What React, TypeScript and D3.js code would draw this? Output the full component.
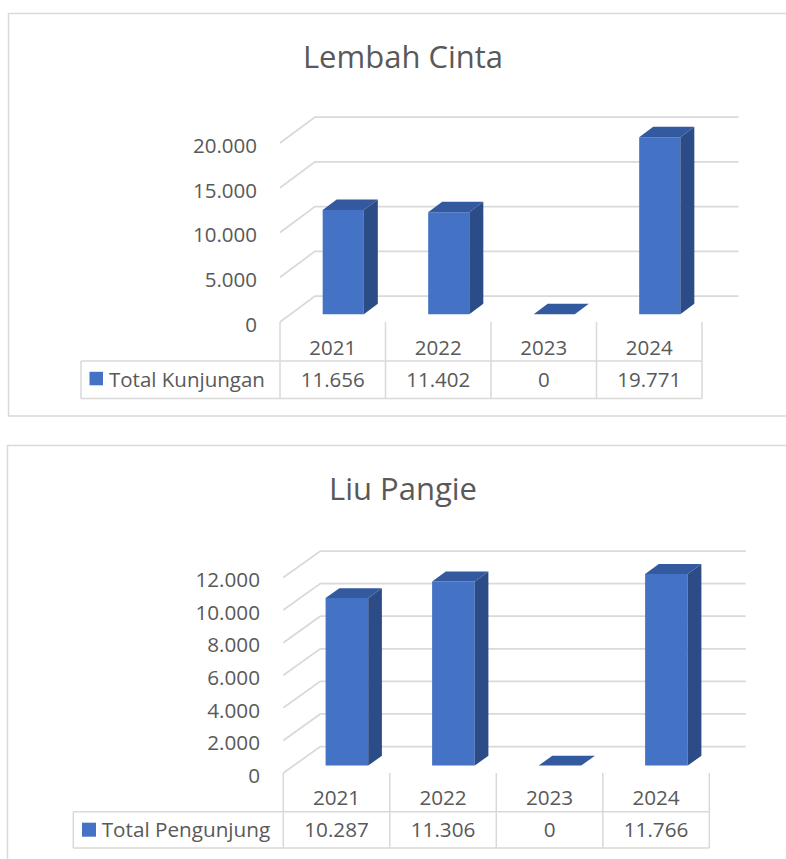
import React from "react";
import * as d3 from "d3";

const years = ["2021", "2022", "2023", "2024"];
const lembahCintaValues = [11656, 11402, 0, 19771];
const liuPangieValues = [10287, 11306, 0, 11766];
const lembahCintaTicks = [0, 5000, 10000, 15000, 20000];
const liuPangieTicks = [0, 2000, 4000, 6000, 8000, 10000, 12000];
const lembahCintaTitle = "Lembah Cinta";
const liuPangieTitle = "Liu Pangie";
const lembahCintaSeries = "Total Kunjungan";
const liuPangieSeries = "Total Pengunjung";

const idFmt = d3.formatLocale({ decimal: ",", thousands: ".", grouping: [3], currency: ["", ""] }).format(",d");

const FONT = "'Open Sans', 'Noto Sans', sans-serif";
const TEXT = "#595959";
const GRID = "#d9d9d9";
const FRONT = "#4472c4";
const SIDE = "#2b4c86";
const TOP = "#335a9e";

type Layout = {
  frame: { x: number; y: number; w: number; h: number };
  titleY: number;
  titleX: number;
  titleSize: number;
  fontSize: number;
  x0: number;
  slot: number;
  floorY: number;
  dx: number;
  dy: number;
  gridEnd: number;
  h: number;
  pad: number;
  d0: number;
  dd: number;
  labelRight: number;
  labelOff: number;
  rowTop: number;
  rowBottom: number;
  legendLeft: number;
  headerBase: number;
  dataBase: number;
  sqX: number;
  sqY: number;
  sq: number;
  legTextX: number;
};

function Chart3D({ title, series, categories, values, ticks, L }: any) {
  const lay: Layout = L;
  const x = d3
    .scaleBand<string>()
    .domain(categories)
    .range([lay.x0, lay.x0 + lay.slot * categories.length])
    .paddingInner(lay.pad)
    .paddingOuter(lay.pad / 2);
  const y = d3.scaleLinear().domain([0, d3.max(ticks) as number]).range([0, lay.h]);
  const P = (px: number, depth: number, v: number) => [px + depth * lay.dx, lay.floorY - depth * lay.dy - y(v)];
  const pts = (arr: number[][]) => arr.map((p) => p.join(",")).join(" ");
  const slotStart = (c: string) => (x(c) as number) - (x.step() - x.bandwidth()) / 2;
  const tableRight = lay.x0 + x.step() * categories.length;

  return (
    <g fontFamily={FONT}>
      <rect x={lay.frame.x} y={lay.frame.y} width={lay.frame.w} height={lay.frame.h} fill="#fff" stroke={GRID} strokeWidth={1.5} />
      <text x={lay.titleX} y={lay.titleY} textAnchor="middle" fontSize={lay.titleSize} fill={TEXT}>
        {title}
      </text>
      {ticks.map((t: number) => {
        const f = P(lay.x0, 0, t);
        const b = P(lay.x0, 1, t);
        return (
          <g key={"g" + t}>
            <polyline points={pts([f, b, [lay.gridEnd, b[1]]])} fill="none" stroke={GRID} strokeWidth={1.75} />
            <text x={lay.labelRight} y={f[1] + lay.labelOff} textAnchor="end" fontSize={lay.fontSize} fill={TEXT}>
              {idFmt(t)}
            </text>
          </g>
        );
      })}
      {categories.map((c: string, i: number) => {
        const v = values[i];
        const xl = x(c) as number;
        const xr = xl + x.bandwidth();
        const d0 = lay.d0;
        const d1 = lay.d0 + lay.dd;
        const fbl = P(xl, d0, 0), fbr = P(xr, d0, 0), ftl = P(xl, d0, v), ftr = P(xr, d0, v);
        const bbr = P(xr, d1, 0), btl = P(xl, d1, v), btr = P(xr, d1, v);
        return (
          <g key={"b" + c}>
            {v > 0 && <polygon points={pts([fbl, fbr, ftr, ftl])} fill={FRONT} />}
            {v > 0 && <polygon points={pts([fbr, bbr, btr, ftr])} fill={SIDE} />}
            <polygon points={pts([ftl, ftr, btr, btl])} fill={TOP} />
          </g>
        );
      })}
      {/* table */}
      {categories.map((c: string, i: number) => {
        const s = slotStart(c);
        return (
          <g key={"t" + c}>
            <line x1={s} x2={s} y1={lay.floorY} y2={lay.rowBottom} stroke={GRID} strokeWidth={1.5} />
            <text x={s + x.step() / 2} y={lay.headerBase} textAnchor="middle" fontSize={lay.fontSize} fill={TEXT}>
              {c}
            </text>
            <text x={s + x.step() / 2} y={lay.dataBase} textAnchor="middle" fontSize={lay.fontSize} fill={TEXT}>
              {idFmt(values[i])}
            </text>
          </g>
        );
      })}
      <line x1={tableRight} x2={tableRight} y1={lay.floorY} y2={lay.rowBottom} stroke={GRID} strokeWidth={1.5} />
      <line x1={lay.legendLeft} x2={tableRight} y1={lay.rowTop} y2={lay.rowTop} stroke={GRID} strokeWidth={1.5} />
      <line x1={lay.legendLeft} x2={tableRight} y1={lay.rowBottom} y2={lay.rowBottom} stroke={GRID} strokeWidth={1.5} />
      <line x1={lay.legendLeft} x2={lay.legendLeft} y1={lay.rowTop} y2={lay.rowBottom} stroke={GRID} strokeWidth={1.5} />
      <rect x={lay.sqX} y={lay.sqY} width={lay.sq} height={lay.sq} fill={FRONT} />
      <text x={lay.legTextX} y={lay.dataBase} fontSize={lay.fontSize} fill={TEXT}>
        {series}
      </text>
    </g>
  );
}

const topLayout: Layout = {
  frame: { x: 8.5, y: 13.5, w: 900, h: 402.5 },
  titleX: 403,
  titleY: 68,
  titleSize: 31,
  fontSize: 20.5,
  x0: 280,
  slot: 105.5,
  floorY: 322,
  dx: 35,
  dy: 26,
  gridEnd: 738.5,
  h: 179,
  pad: 0.61,
  d0: 0.3,
  dd: 0.4,
  labelRight: 257,
  labelOff: 9.8,
  rowTop: 361,
  rowBottom: 398.5,
  legendLeft: 81,
  headerBase: 355,
  dataBase: 386.7,
  sqX: 89.5,
  sqY: 371.8,
  sq: 13.5,
  legTextX: 109,
};

const bottomLayout: Layout = {
  frame: { x: 7.5, y: 445.5, w: 900, h: 500 },
  titleX: 403,
  titleY: 500,
  titleSize: 31,
  fontSize: 20.7,
  x0: 283.3,
  slot: 106.5,
  floorY: 773,
  dx: 37,
  dy: 26.5,
  gridEnd: 745.7,
  h: 195.5,
  pad: 0.6,
  d0: 0.28,
  dd: 0.37,
  labelRight: 260,
  labelOff: 9.8,
  rowTop: 811.7,
  rowBottom: 848,
  legendLeft: 73.3,
  headerBase: 805,
  dataBase: 837,
  sqX: 82,
  sqY: 822.7,
  sq: 14,
  legTextX: 101.7,
};

export default function App() {
  return (
    <svg
      width={786}
      height={859}
      viewBox="0 0 786 859"
      style={{ position: "absolute", left: 0, top: 0, display: "block", background: "#fff" }}
    >
      <rect x={0} y={0} width={786} height={859} fill="#fff" />
      <Chart3D
        title={lembahCintaTitle}
        series={lembahCintaSeries}
        categories={years}
        values={lembahCintaValues}
        ticks={lembahCintaTicks}
        L={topLayout}
      />
      <Chart3D
        title={liuPangieTitle}
        series={liuPangieSeries}
        categories={years}
        values={liuPangieValues}
        ticks={liuPangieTicks}
        L={bottomLayout}
      />
    </svg>
  );
}
